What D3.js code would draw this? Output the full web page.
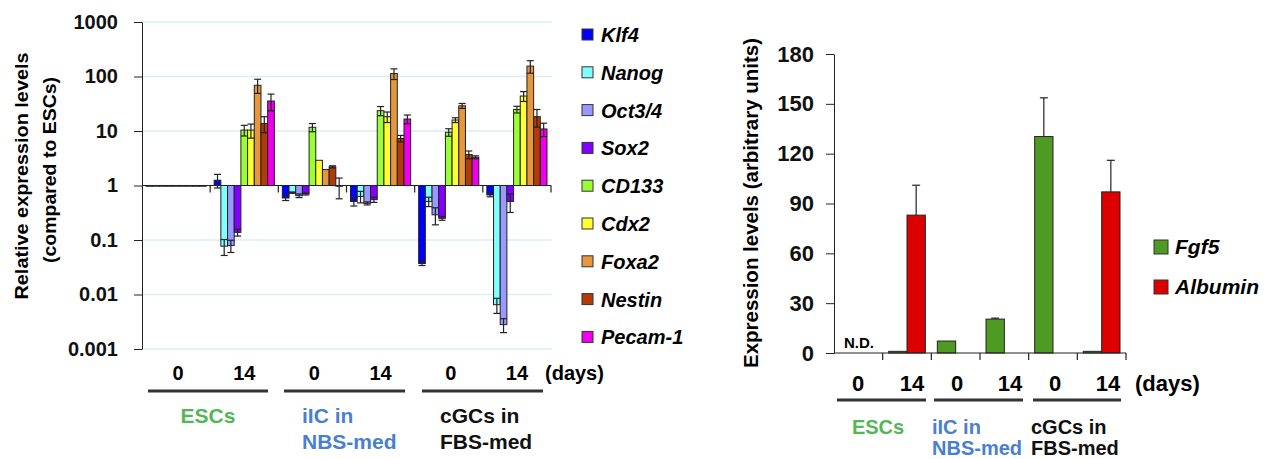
<!DOCTYPE html>
<html>
<head>
<meta charset="utf-8">
<script src="https://cdn.jsdelivr.net/npm/d3@7"></script>
<style>
  body { margin: 0; background: #fff; }
  text { font-family: Arial, "Liberation Sans", sans-serif; }
</style>
</head>
<body>
<svg width="1273" height="459"></svg>
<script>
// ---- data ----
var genes = ['Klf4', 'Nanog', 'Oct3/4', 'Sox2', 'CD133', 'Cdx2', 'Foxa2', 'Nestin', 'Pecam-1'];
var geneColors = ['#0000ff', '#80ffff', '#9999ff', '#8000ff', '#99ff33', '#ffff33', '#e8963c', '#b33a0a', '#ee00ee'];
var conditions = ['ESC0', 'ESC14', 'iIC0', 'iIC14', 'cGC0', 'cGC14'];
var dayLabels = ['0', '14', '0', '14', '0', '14'];
var groupLabels = [['ESCs'], ['iIC in', 'NBS-med'], ['cGCs in', 'FBS-med']];
var groupColors = ['#55b655', '#4a7fcf', '#111'];

// relative expression (rows = conditions, cols = genes)
var relExpr = [
  [0.97, 0.97, 0.97, 0.97, 0.97, 0.97, 0.97, 0.97, 0.97],
  [1.25, 0.077, 0.079, 0.138, 10.4, 10.4, 69, 13.8, 35.5],
  [0.59, 0.74, 0.65, 0.70, 11.7, 2.9, 1.96, 2.2, 0.97],
  [0.51, 0.63, 0.47, 0.55, 23.6, 18.3, 113, 7.3, 16.6],
  [0.037, 0.51, 0.29, 0.25, 9.5, 15.9, 29, 3.7, 3.3],
  [0.67, 0.0065, 0.0028, 0.51, 24.9, 43.8, 155, 18.3, 10.9]
];
var relErr = [
  [0, 0, 0, 0, 0, 0, 0, 0, 0],
  [0.35, 0.025, 0.02, 0.02, 2.3, 3.0, 20, 4.5, 12],
  [0.06, 0.02, 0.05, 0.03, 2.0, 0, 0, 0.1, 0.4],
  [0.09, 0.15, 0.03, 0.06, 4.5, 4.0, 25, 1.0, 3.0],
  [0.003, 0.1, 0.1, 0.02, 1.5, 1.6, 3.0, 0.6, 0.2],
  [0.05, 0.002, 0.0008, 0.19, 3.5, 9.0, 40, 6.5, 3.0]
];
var logTicks = [0.001, 0.01, 0.1, 1, 10, 100, 1000];

var rightGenes = ['Fgf5', 'Albumin'];
var rightColors = ['#4e9a22', '#dd0000'];
var fgf5 = [0, 1, 7.2, 20.4, 130.3, 1];
var fgf5Err = [0, 0, 0, 0.6, 23.3, 0];
var albumin = [0, 83, 0, 0, 0, 97];
var albuminErr = [0, 18, 0, 0, 0, 19];
var linTicks = [0, 30, 60, 90, 120, 150, 180];

var svg = d3.select('svg');

// ---- left chart ----
var y = d3.scaleLog().domain([0.001, 1000]).range([349, 22]);
var x0 = d3.scaleBand().domain(conditions).range([142, 551]);
var x1 = d3.scaleBand().domain(genes).range([4, x0.bandwidth() - 4]);
var base = y(1);

svg.append('g').selectAll('line').data(logTicks).join('line')
    .attr('x1', 142).attr('x2', 552)
    .attr('y1', function (d) { return y(d); })
    .attr('y2', function (d) { return y(d); })
    .attr('stroke', '#dcedf7').attr('stroke-width', 1.5);

var yAxisL = svg.append('g')
    .attr('transform', 'translate(142,0)')
    .call(d3.axisLeft(y).tickValues(logTicks).tickFormat(function (d) { return String(d); }).tickSize(8).tickSizeOuter(0));
yAxisL.select('.domain').attr('stroke', '#222');
yAxisL.selectAll('.tick line').attr('stroke', '#222');
yAxisL.selectAll('.tick text')
    .attr('x', -24)
    .style('font-size', '20px').style('font-weight', 'bold')
    .style('font-family', 'Arial, "Liberation Sans", sans-serif').attr('fill', '#111');

var cells = [];
conditions.forEach(function (c, i) {
  genes.forEach(function (g, j) {
    cells.push({ c: c, g: g, j: j, v: relExpr[i][j], e: relErr[i][j] });
  });
});

var gl = svg.append('g');
gl.selectAll('rect').data(cells).join('rect')
    .attr('x', function (d) { return x0(d.c) + x1(d.g); })
    .attr('width', x1.bandwidth())
    .attr('y', function (d) { return Math.min(y(d.v), base); })
    .attr('height', function (d) { return Math.abs(y(d.v) - base); })
    .attr('fill', function (d) { return geneColors[d.j]; })
    .attr('stroke', '#222').attr('stroke-width', 1);

var errCells = cells.filter(function (d) { return d.e > 0; });
var eb = gl.append('g').attr('stroke', '#222').attr('stroke-width', 1.2);
errCells.forEach(function (d) {
  var cx = x0(d.c) + x1(d.g) + x1.bandwidth() / 2;
  var hi = y(d.v + d.e);
  var lo = y(Math.max(d.v - d.e, 0.0011));
  eb.append('line').attr('x1', cx).attr('x2', cx).attr('y1', hi).attr('y2', lo);
  eb.append('line').attr('x1', cx - 3.5).attr('x2', cx + 3.5).attr('y1', hi).attr('y2', hi);
  eb.append('line').attr('x1', cx - 3.5).attr('x2', cx + 3.5).attr('y1', lo).attr('y2', lo);
});

// baseline at 1 with group ticks
svg.append('line').attr('x1', 142).attr('x2', 551).attr('y1', base).attr('y2', base)
    .attr('stroke', '#222').attr('stroke-width', 1.2);
svg.append('g').selectAll('line').data(conditions.slice(1).concat(['end'])).join('line')
    .attr('x1', function (d) { return d === 'end' ? 551 : x0(d); })
    .attr('x2', function (d) { return d === 'end' ? 551 : x0(d); })
    .attr('y1', base).attr('y2', base + 7)
    .attr('stroke', '#222').attr('stroke-width', 1.2);

// legend
var lg = svg.append('g');
genes.forEach(function (g, i) {
  var cy = 35 + i * 37.8;
  lg.append('rect').attr('x', 582).attr('y', cy - 6).attr('width', 11).attr('height', 11)
      .attr('fill', geneColors[i]).attr('stroke', '#333').attr('stroke-width', 1);
  lg.append('text').attr('x', 601).attr('y', cy).attr('dy', '0.35em')
      .style('font-size', '20px').style('font-style', 'italic').style('font-weight', 'bold')
      .text(g);
});

// y title
svg.append('text').attr('transform', 'translate(21,176) rotate(-90)')
    .attr('text-anchor', 'middle').attr('dy', '0.35em')
    .attr('textLength', 247).attr('lengthAdjust', 'spacingAndGlyphs')
    .style('font-size', '19px').style('font-weight', 'bold')
    .text('Relative expression levels');
svg.append('text').attr('transform', 'translate(49,170) rotate(-90)')
    .attr('text-anchor', 'middle').attr('dy', '0.35em')
    .attr('textLength', 186).attr('lengthAdjust', 'spacingAndGlyphs')
    .style('font-size', '19px').style('font-weight', 'bold')
    .text('(compared to ESCs)');

// day labels, underlines, group labels
function bottomLabels(xs, dayY, lineY, lab1Y, lab2Y, fs, daysX, pairs) {
  var g = svg.append('g');
  conditions.forEach(function (c, i) {
    g.append('text').attr('x', xs(c) + xs.bandwidth() / 2 + (i % 2 === 0 ? 2 : 0)).attr('y', dayY)
        .attr('dy', '0.35em').attr('text-anchor', 'middle')
        .style('font-size', fs + 'px').style('font-weight', 'bold').text(dayLabels[i]);
  });
  g.append('text').attr('x', daysX).attr('y', dayY).attr('dy', '0.35em')
      .style('font-size', fs + 'px').style('font-weight', 'bold').text('(days)');
  pairs.forEach(function (p, k) {
    g.append('line').attr('x1', p[0]).attr('x2', p[1]).attr('y1', lineY).attr('y2', lineY)
        .attr('stroke', '#333').attr('stroke-width', 3);
    var lines = groupLabels[k];
    var t = g.append('text').attr('fill', groupColors[k])
        .style('font-size', (fs + 1) + 'px').style('font-weight', 'bold');
    if (lines.length === 1) {
      t.attr('x', (p[0] + p[1]) / 2).attr('y', lab1Y).attr('dy', '0.35em')
          .attr('text-anchor', 'middle').text(lines[0]);
    } else {
      t.append('tspan').attr('x', p[0] + 18).attr('y', lab1Y).attr('dy', '0.35em').text(lines[0]);
      t.append('tspan').attr('x', p[0] + 18).attr('y', lab2Y).attr('dy', '0.35em').text(lines[1]);
    }
  });
}
bottomLabels(x0, 373, 391, 416, 442, 20, 545, [[148, 268], [284, 405], [422, 543]]);

// ---- right chart ----
var yr = d3.scaleLinear().domain([0, 180]).range([353, 54]);
var xr0 = d3.scaleBand().domain(conditions).range([834, 1126]);
var xr1 = d3.scaleBand().domain(rightGenes).range([6, xr0.bandwidth() - 6]);

var yAxisR = svg.append('g')
    .attr('transform', 'translate(834,0)')
    .call(d3.axisLeft(yr).tickValues(linTicks).tickSize(8).tickSizeOuter(0));
yAxisR.select('.domain').attr('stroke', '#222');
yAxisR.selectAll('.tick line').attr('stroke', '#222');
yAxisR.selectAll('.tick text')
    .attr('x', -20)
    .style('font-size', '22px').style('font-weight', 'bold')
    .style('font-family', 'Arial, "Liberation Sans", sans-serif').attr('fill', '#111');

var rcells = [];
conditions.forEach(function (c, i) {
  rcells.push({ c: c, g: 'Fgf5', k: 0, v: fgf5[i], e: fgf5Err[i] });
  rcells.push({ c: c, g: 'Albumin', k: 1, v: albumin[i], e: albuminErr[i] });
});
rcells = rcells.filter(function (d) { return d.v > 0; });

var gr = svg.append('g');
gr.selectAll('rect').data(rcells).join('rect')
    .attr('x', function (d) { return xr0(d.c) + xr1(d.g); })
    .attr('width', xr1.bandwidth())
    .attr('y', function (d) { return yr(d.v); })
    .attr('height', function (d) { return yr(0) - yr(d.v); })
    .attr('fill', function (d) { return rightColors[d.k]; })
    .attr('stroke', '#222').attr('stroke-width', 1);

var ebr = gr.append('g').attr('stroke', '#222').attr('stroke-width', 1.2);
rcells.filter(function (d) { return d.e > 0; }).forEach(function (d) {
  var cx = xr0(d.c) + xr1(d.g) + xr1.bandwidth() / 2;
  var hi = yr(d.v + d.e);
  ebr.append('line').attr('x1', cx).attr('x2', cx).attr('y1', hi).attr('y2', yr(d.v));
  ebr.append('line').attr('x1', cx - 4).attr('x2', cx + 4).attr('y1', hi).attr('y2', hi);
});

svg.append('line').attr('x1', 834).attr('x2', 1126).attr('y1', yr(0)).attr('y2', yr(0))
    .attr('stroke', '#222').attr('stroke-width', 1.2);
svg.append('g').selectAll('line').data(conditions.slice(1).concat(['end'])).join('line')
    .attr('x1', function (d) { return d === 'end' ? 1126 : xr0(d); })
    .attr('x2', function (d) { return d === 'end' ? 1126 : xr0(d); })
    .attr('y1', yr(0)).attr('y2', yr(0) + 7)
    .attr('stroke', '#222').attr('stroke-width', 1.2);

svg.append('text').attr('x', 859).attr('y', yr(0) - 5).attr('text-anchor', 'middle')
    .style('font-size', '15px').style('font-weight', 'bold').text('N.D.');

// right legend
rightGenes.forEach(function (g, i) {
  var cy = 247 + i * 40;
  svg.append('rect').attr('x', 1154).attr('y', cy - 7).attr('width', 14).attr('height', 14)
      .attr('fill', rightColors[i]).attr('stroke', '#333').attr('stroke-width', 1);
  svg.append('text').attr('x', 1175).attr('y', cy).attr('dy', '0.35em')
      .style('font-size', '21px').style('font-style', 'italic').style('font-weight', 'bold')
      .text(g);
});

svg.append('text').attr('transform', 'translate(751,203) rotate(-90)')
    .attr('text-anchor', 'middle').attr('dy', '0.35em')
    .attr('textLength', 330).attr('lengthAdjust', 'spacingAndGlyphs')
    .style('font-size', '20px').style('font-weight', 'bold')
    .text('Expression levels (arbitrary units)');

// right bottom labels
(function () {
  var g = svg.append('g');
  var dayX = [858, 912, 957, 1010, 1055, 1108];
  dayX.forEach(function (x, i) {
    g.append('text').attr('x', x).attr('y', 383).attr('dy', '0.35em').attr('text-anchor', 'middle')
        .style('font-size', '22px').style('font-weight', 'bold').text(dayLabels[i]);
  });
  g.append('text').attr('x', 1135).attr('y', 383).attr('dy', '0.35em')
      .style('font-size', '22px').style('font-weight', 'bold').text('(days)');
  var pairs = [[837, 926], [934, 1023], [1033, 1121]];
  pairs.forEach(function (p, k) {
    g.append('line').attr('x1', p[0]).attr('x2', p[1]).attr('y1', 400).attr('y2', 400)
        .attr('stroke', '#333').attr('stroke-width', 3);
    var lines = groupLabels[k];
    var t = g.append('text').attr('fill', groupColors[k])
        .style('font-size', '20px').style('font-weight', 'bold');
    if (lines.length === 1) {
      t.attr('x', 878).attr('y', 427).attr('dy', '0.35em').attr('text-anchor', 'middle').text(lines[0]);
    } else {
      t.append('tspan').attr('x', p[0] - 2).attr('y', 427).attr('dy', '0.35em').text(lines[0]);
      t.append('tspan').attr('x', p[0] - 2).attr('y', 448).attr('dy', '0.35em').text(lines[1]);
    }
  });
})();
</script>
</body>
</html>
